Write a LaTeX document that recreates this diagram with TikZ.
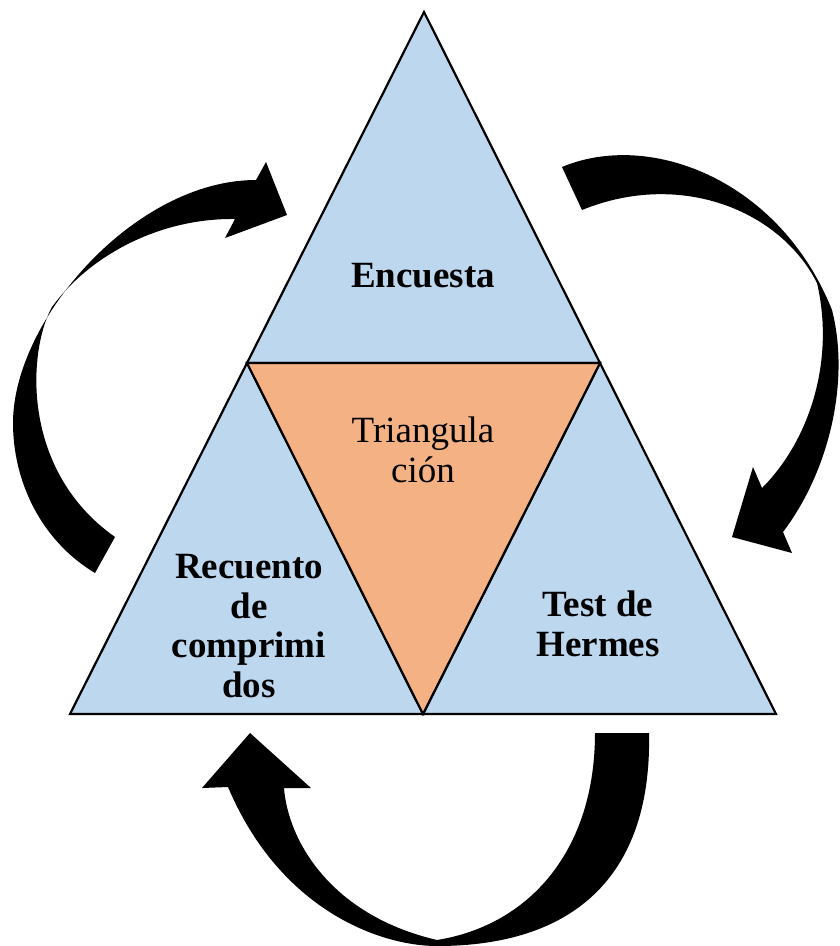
\documentclass[tikz,border=0pt]{standalone}
\usepackage{fontspec}
\setmainfont{Liberation Serif}
\definecolor{triblue}{HTML}{BDD7EE}
\definecolor{triorange}{HTML}{F4B183}
\begin{document}
\begin{tikzpicture}[x=1pt,y=-1pt,
  tri/.style={draw=black,line width=2.2pt,line join=miter},
  lbl/.style={align=center,anchor=base,inner sep=0pt,font=\fontsize{37}{39.5}\selectfont},
  bigarrow/.style={fill=black,draw=none}]
\useasboundingbox (0,0) rectangle (839,946);
% triangle corners
\coordinate (A) at (424,12);
\coordinate (B) at (70,714);
\coordinate (C) at (776,714);
\coordinate (AB) at (247,363);
\coordinate (AC) at (600,363);
\coordinate (BC) at (423,714);
\filldraw[tri,fill=triblue] (A) -- (AC) -- (AB) -- cycle;
\filldraw[tri,fill=triblue] (AB) -- (BC) -- (B) -- cycle;
\filldraw[tri,fill=triblue] (AC) -- (C) -- (BC) -- cycle;
\filldraw[tri,fill=triorange] (AB) -- (AC) -- (BC) -- cycle;
% labels (base anchor = baseline of last line)
\node[lbl,font=\fontsize{37}{39.5}\selectfont\bfseries] (enc) at (423,287) {Encuesta};
\node[lbl] (tri) at (423,482) {Triangula\\ción};
\node[lbl,font=\fontsize{37}{39.5}\selectfont\bfseries] (rec) at (249,697) {Recuento\\de\\comprimi\\dos};
\node[lbl,font=\fontsize{37}{39.5}\selectfont\bfseries] (her) at (598,656) {Test de\\Hermes};
% left curved arrow
\path[bigarrow] (95,573) .. controls (40,540) and (13,480) .. (13,423)
  .. controls (13,320) and (135,180) .. (256,180)
  -- (266,162) -- (287,215) -- (225,238) -- (235,219)
  .. controls (160,218) and (90,255) .. (52,307)
  .. controls (28,350) and (20,470) .. (115,537) -- cycle;
% right curved arrow
\path[bigarrow] (562,167) .. controls (650,130) and (780,180) .. (832,310)
  .. controls (850,380) and (830,470) .. (783,532)
  -- (792,553) -- (732,537) -- (753,467) -- (762,488)
  .. controls (810,440) and (835,360) .. (817,283)
  .. controls (780,210) and (680,170) .. (582,210) -- cycle;
% bottom curved arrow
\path[bigarrow] (649,733) .. controls (652,870) and (580,946) .. (437,946)
  .. controls (380,946) and (280,910) .. (228,787)
  -- (202,788) -- (250,733) -- (311,788) -- (284,788)
  .. controls (288,840) and (330,915) .. (437,940)
  .. controls (530,925) and (595,850) .. (595,733) -- cycle;
\end{tikzpicture}
\end{document}
